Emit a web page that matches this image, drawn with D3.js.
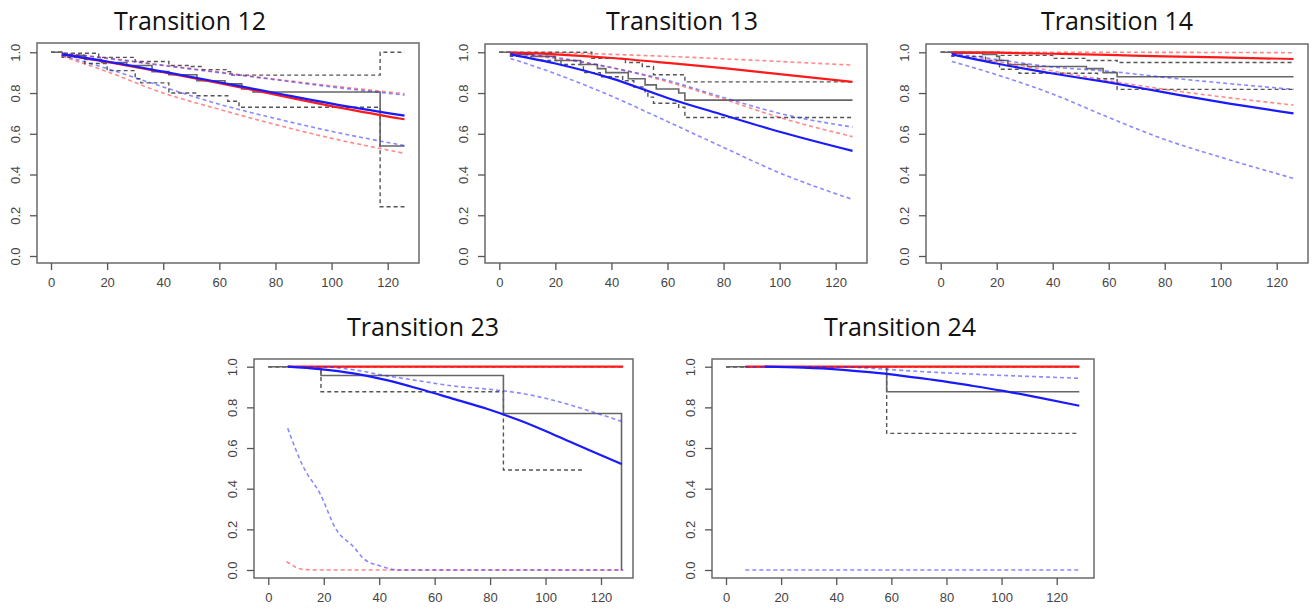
<!DOCTYPE html>
<html><head><meta charset="utf-8">
<script src="https://cdn.jsdelivr.net/npm/d3@7"></script>
<style>
html,body{margin:0;padding:0;background:#fff;}
svg{display:block;}
</style></head>
<body>
<svg id="chart" width="1315" height="609"></svg>
<script>
// ---------- DATA ----------
const titles = ["Transition 12", "Transition 13", "Transition 14", "Transition 23", "Transition 24"];
const xTicks = [0, 20, 40, 60, 80, 100, 120];
const yTicks = [0, 0.2, 0.4, 0.6, 0.8, 1.0];

// Transition 12
const t12_km   = [[0,1],[4,0.985],[12,0.965],[18,0.95],[27,0.935],[36,0.905],[42,0.89],[52,0.86],[62,0.845],[68,0.82],[72,0.805],[117.3,0.54],[126,0.54]];
const t12_kmHi = [[0,1],[4,0.995],[17,0.975],[30,0.955],[42,0.935],[50,0.93],[54,0.915],[63,0.905],[64,0.888],[117.3,1.0],[126,1.0]];
const t12_kmLo = [[0,1],[4,0.975],[12,0.945],[20,0.91],[30,0.87],[32,0.85],[42,0.8],[52,0.787],[63,0.76],[67,0.73],[117.3,0.242],[126,0.242]];
const t12_red   = [[4,0.99],[20,0.953],[40,0.902],[60,0.848],[80,0.792],[100,0.736],[126,0.671]];
const t12_redHi = [[4,0.995],[20,0.972],[40,0.937],[60,0.903],[80,0.868],[100,0.835],[126,0.797]];
const t12_redLo = [[4,0.98],[20,0.905],[40,0.8],[60,0.72],[80,0.645],[100,0.578],[126,0.504]];
const t12_blue   = [[4,0.99],[20,0.955],[40,0.905],[60,0.853],[80,0.8],[100,0.748],[126,0.689]];
const t12_blueHi = [[4,0.995],[20,0.97],[40,0.935],[60,0.9],[80,0.865],[100,0.83],[126,0.79]];
const t12_blueLo = [[4,0.985],[20,0.92],[40,0.83],[60,0.745],[80,0.675],[100,0.612],[126,0.542]];

// Transition 13
const t13_km   = [[0,1],[4,0.99],[12,0.98],[20,0.96],[29,0.94],[35,0.92],[38,0.9],[46,0.87],[52,0.84],[56,0.82],[64,0.8],[66.2,0.765],[126,0.765]];
const t13_kmHi = [[0,1],[33,0.97],[45,0.95],[51,0.93],[55,0.89],[66.2,0.855],[126,0.855]];
const t13_kmLo = [[0,1],[4,0.98],[15,0.96],[22,0.94],[30,0.9],[36,0.88],[44,0.86],[48,0.83],[52,0.8],[53,0.78],[55,0.75],[64,0.73],[66.2,0.68],[126,0.68]];
const t13_red   = [[4,0.998],[20,0.99],[40,0.972],[60,0.948],[80,0.922],[100,0.893],[126,0.855]];
const t13_redHi = [[4,1.0],[20,0.998],[40,0.99],[60,0.98],[80,0.968],[100,0.955],[126,0.937]];
const t13_redLo = [[4,0.995],[20,0.97],[40,0.925],[60,0.855],[80,0.77],[100,0.68],[126,0.586]];
const t13_blue   = [[4,0.99],[20,0.945],[40,0.872],[60,0.776],[80,0.692],[100,0.61],[126,0.516]];
const t13_blueHi = [[4,0.998],[20,0.975],[40,0.925],[60,0.862],[80,0.778],[100,0.7],[126,0.633]];
const t13_blueLo = [[4,0.97],[20,0.895],[40,0.785],[60,0.66],[80,0.533],[100,0.408],[126,0.278]];

// Transition 14
const t14_km   = [[0,1],[4,0.995],[15,0.99],[20,0.98],[21,0.96],[24,0.94],[31,0.93],[52,0.92],[58,0.9],[63,0.88],[126,0.88]];
const t14_kmHi = [[0,1],[21,0.985],[40,0.97],[52,0.96],[63,0.95],[126,0.95]];
const t14_kmLo = [[0,1],[4,0.98],[16,0.96],[21,0.917],[28,0.897],[56,0.87],[63,0.818],[126,0.818]];
const t14_red   = [[4,1.0],[20,0.998],[40,0.993],[60,0.987],[80,0.98],[100,0.975],[126,0.967]];
const t14_redHi = [[4,1.0],[60,1.0],[126,0.998]];
const t14_redLo = [[4,0.99],[20,0.955],[40,0.908],[60,0.86],[80,0.818],[100,0.782],[126,0.741]];
const t14_blue   = [[4,0.99],[20,0.945],[40,0.896],[60,0.852],[80,0.803],[100,0.755],[126,0.7]];
const t14_blueHi = [[4,0.995],[20,0.965],[40,0.928],[60,0.907],[80,0.877],[100,0.85],[126,0.818]];
const t14_blueLo = [[4,0.955],[20,0.89],[40,0.795],[60,0.68],[80,0.572],[100,0.485],[126,0.381]];

// Transition 23
const t23_km   = [[0,1],[19,0.957],[84.8,0.77],[127.4,0]];
const t23_kmHi = [[0,1],[128,1]];
const t23_kmLo = [[0,1],[19,0.877],[84.8,0.492],[113.3,0.492]];
const t23_red   = [[7,1],[128,1]];
const t23_redHi = [[7,1],[128,1]];
const t23_redLo = [[6.6,0.041],[8,0.03],[10,0.012],[12,0.004],[15,0.001],[20,0],[128,0]];
const t23_blue   = [[7,1],[18.6,0.988],[30.7,0.967],[42.7,0.934],[54.7,0.89],[66.7,0.842],[78.8,0.793],[90.8,0.735],[102.8,0.667],[114.8,0.595],[127.5,0.521]];
const t23_blueHi = [[7,1],[18.6,1],[30.7,0.985],[42.7,0.955],[54.7,0.93],[66.7,0.905],[78.8,0.89],[90.8,0.87],[102.8,0.835],[114.8,0.787],[127.5,0.73]];
const t23_blueLo = [[7,0.697],[12.6,0.508],[18.6,0.377],[24.6,0.197],[30.7,0.115],[34.3,0.057],[40.3,0.02],[47.5,0],[128,0]];

// Transition 24
const t24_km   = [[0,1],[58.3,0.877],[128.2,0.877]];
const t24_kmHi = [[0,1],[128.2,1]];
const t24_kmLo = [[0,1],[58.3,0.672],[128.2,0.672]];
const t24_red   = [[7,1],[128.2,1]];
const t24_redHi = [[7,1],[128.2,1]];
const t24_redLo = [[7,1],[128.2,1]];
const t24_blue   = [[14,1],[28,0.995],[40,0.987],[52,0.973],[64,0.955],[76.5,0.933],[88.5,0.908],[100.6,0.881],[112.7,0.85],[128.2,0.808]];
const t24_blueHi = [[7,1],[40,1],[52,0.993],[64,0.982],[76.5,0.972],[88.5,0.964],[100.6,0.957],[112.7,0.951],[128.2,0.943]];
const t24_blueLo = [[7,0],[128.2,0]];

const panelData = [
  {km:t12_km, kmHi:t12_kmHi, kmLo:t12_kmLo, red:t12_red, redHi:t12_redHi, redLo:t12_redLo, blue:t12_blue, blueHi:t12_blueHi, blueLo:t12_blueLo},
  {km:t13_km, kmHi:t13_kmHi, kmLo:t13_kmLo, red:t13_red, redHi:t13_redHi, redLo:t13_redLo, blue:t13_blue, blueHi:t13_blueHi, blueLo:t13_blueLo},
  {km:t14_km, kmHi:t14_kmHi, kmLo:t14_kmLo, red:t14_red, redHi:t14_redHi, redLo:t14_redLo, blue:t14_blue, blueHi:t14_blueHi, blueLo:t14_blueLo},
  {km:t23_km, kmHi:t23_kmHi, kmLo:t23_kmLo, red:t23_red, redHi:t23_redHi, redLo:t23_redLo, blue:t23_blue, blueHi:t23_blueHi, blueLo:t23_blueLo},
  {km:t24_km, kmHi:t24_kmHi, kmLo:t24_kmLo, red:t24_red, redHi:t24_redHi, redLo:t24_redLo, blue:t24_blue, blueHi:t24_blueHi, blueLo:t24_blueLo}
];

// ---------- LAYOUT (pixel positions) ----------
const layout = [
  {box:[37,43,419,263],   x0:51,    x120:387.7,  yv1:52.3,  yv0:256, tx:190, ty:30},
  {box:[485,44,867,263],  x0:499.3, x120:835.7,  yv1:52.3,  yv0:256, tx:682, ty:30},
  {box:[926,44,1308,263], x0:940.7, x120:1276.7, yv1:52.3,  yv0:256, tx:1117, ty:30},
  {box:[254,359,633,578], x0:268.3, x120:601,    yv1:366.7, yv0:570, tx:423, ty:336},
  {box:[712,359,1094,578],x0:726,   x120:1056.7, yv1:366.7, yv0:570, tx:900, ty:336}
];

const svg = d3.select("#chart");

panelData.forEach((pd, i) => {
  const L = layout[i];
  const x = d3.scaleLinear().domain([0,120]).range([L.x0, L.x120]);
  const y = d3.scaleLinear().domain([0,1]).range([L.yv0, L.yv1]);
  const [bx0, by0, bx1, by1] = L.box;
  const g = svg.append("g");

  // title
  g.append("text").attr("x", L.tx).attr("y", L.ty)
    .attr("text-anchor","middle")
    .style("font-family","'Open Sans', sans-serif")
    .style("font-size","25px").attr("fill","#111")
    .text(titles[i]);

  const stepLine = d3.line().x(d=>x(d[0])).y(d=>y(d[1])).curve(d3.curveStepAfter);
  const smooth = d3.line().x(d=>x(d[0])).y(d=>y(d[1])).curve(d3.curveMonotoneX);

  const plot = g.append("g");
  // KM step lines
  plot.append("path").attr("d", stepLine(pd.kmHi)).attr("fill","none")
    .attr("stroke","#555").attr("stroke-width",1.4).attr("stroke-dasharray","4,3");
  plot.append("path").attr("d", stepLine(pd.kmLo)).attr("fill","none")
    .attr("stroke","#555").attr("stroke-width",1.4).attr("stroke-dasharray","4,3");
  plot.append("path").attr("d", stepLine(pd.km)).attr("fill","none")
    .attr("stroke","#666").attr("stroke-width",1.6);

  // red
  [pd.redHi, pd.redLo].forEach(s => plot.append("path").attr("d", smooth(s)).attr("fill","none")
    .attr("stroke","rgba(255,40,40,0.55)").attr("stroke-width",1.6).attr("stroke-dasharray","4,3"));
  plot.append("path").attr("d", smooth(pd.red)).attr("fill","none")
    .attr("stroke","#ff1a1a").attr("stroke-width",2.2);
  // blue
  [pd.blueHi, pd.blueLo].forEach(s => plot.append("path").attr("d", smooth(s)).attr("fill","none")
    .attr("stroke","rgba(40,40,255,0.55)").attr("stroke-width",1.6).attr("stroke-dasharray","4,3"));
  plot.append("path").attr("d", smooth(pd.blue)).attr("fill","none")
    .attr("stroke","#1a1aff").attr("stroke-width",2.2);

  // box
  g.append("rect").attr("x",bx0).attr("y",by0).attr("width",bx1-bx0).attr("height",by1-by0)
    .attr("fill","none").attr("stroke","#6a6a6a").attr("stroke-width",1.5);

  // x axis
  const xa = d3.axisBottom(x).tickValues(xTicks).tickSize(7).tickFormat(d3.format("d")).tickPadding(8);
  const gx = g.append("g").attr("transform",`translate(0,${by1})`).call(xa);
  gx.select(".domain").remove();
  gx.selectAll("line").attr("stroke","#555").attr("stroke-width",1.3);
  gx.selectAll("text").attr("fill","#444").style("font-family","'Liberation Sans', Arial, sans-serif").style("font-size","13px");

  // y axis
  const ya = d3.axisLeft(y).tickValues(yTicks).tickSize(7).tickFormat(d3.format(".1f"));
  const gy = g.append("g").attr("transform",`translate(${bx0},0)`).call(ya);
  gy.select(".domain").remove();
  gy.selectAll("line").attr("stroke","#555").attr("stroke-width",1.3);
  gy.selectAll("text")
    .attr("x",0).attr("dy",null)
    .attr("transform","translate(-22,0) rotate(-90)")
    .attr("text-anchor","middle").attr("dominant-baseline","central")
    .attr("fill","#444").style("font-family","'Liberation Sans', Arial, sans-serif").style("font-size","13px");
});
</script>
</body></html>
